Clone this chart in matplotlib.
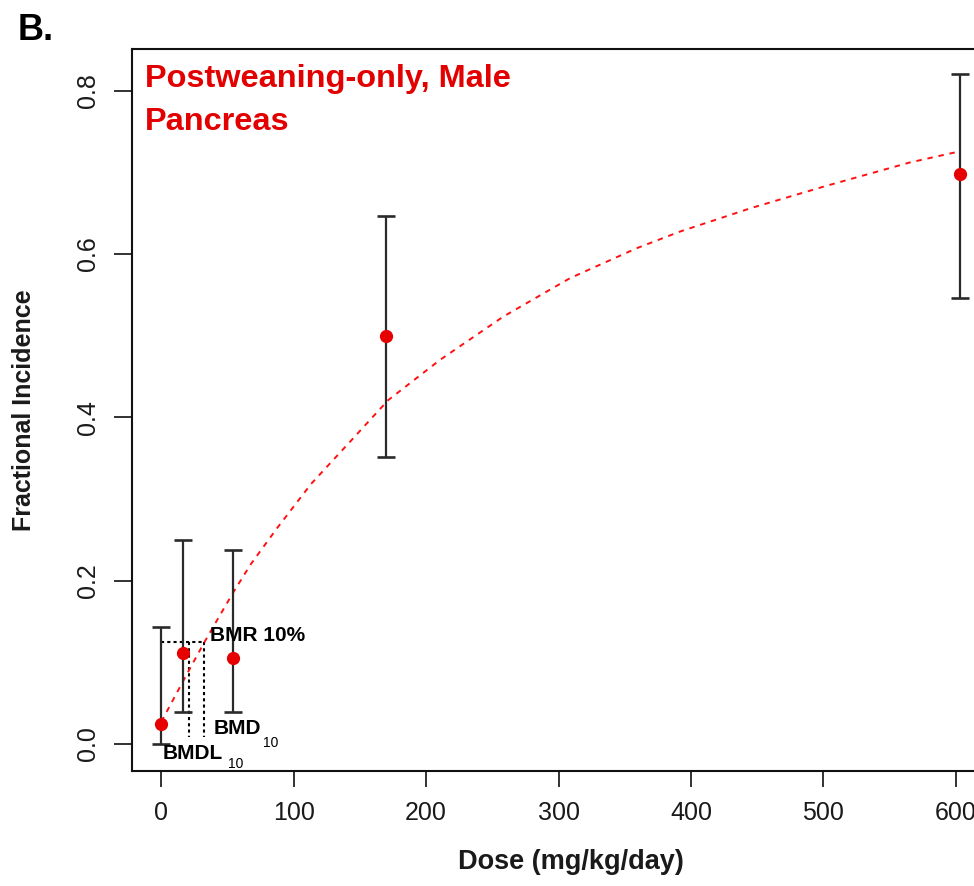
import matplotlib
matplotlib.use("Agg")
import matplotlib.pyplot as plt

# --- datos ---
dose = [0, 16.5, 54, 170, 603]
incidence = [0.0245, 0.111, 0.1055, 0.4996, 0.6977]
ci_lower = [0.0, 0.039, 0.039, 0.3515, 0.5458]
ci_upper = [0.1437, 0.2493, 0.238, 0.647, 0.820]

curve_dose = [0, 1, 18.7, 31.9, 45, 54.7, 67.4, 87.6, 113, 143.4, 171.3, 210.3,
              258.2, 308.5, 358.9, 391.6, 445.5, 501.7, 565.4, 603]
curve_p = [0.027, 0.0307, 0.0841, 0.1232, 0.160, 0.1869, 0.2200, 0.2649, 0.3184,
           0.3718, 0.4211, 0.4702, 0.5233, 0.5703, 0.607, 0.6274, 0.6563,
           0.6832, 0.7121, 0.7257]

bmr = 0.1253
bmd = 31.9
bmdl = 20.5

x_ticks = [0, 100, 200, 300, 400, 500, 600]
y_ticks = [0.0, 0.2, 0.4, 0.6, 0.8]
y_ticklabels = ["0.0", "0.2", "0.4", "0.6", "0.8"]

SANS = ["Liberation Sans", "DejaVu Sans"]

W, H = 974, 886
fig = plt.figure(figsize=(W / 100, H / 100), dpi=100)
ax = fig.add_axes([131.7 / W, 1 - 770.7 / H, (990 - 131.7) / W, (770.7 - 49.3) / H])

ax.set_xlim(-22.5, 626)
ax.set_ylim(-0.0327, 0.8507)

# curva
ax.plot(curve_dose, curve_p, color="#ff1010", lw=1.4, dashes=(2.8, 3.0), zorder=2)

# barras de error + puntos
yerr = [[m - lo for m, lo in zip(incidence, ci_lower)],
        [hi - m for m, hi in zip(incidence, ci_upper)]]
ax.errorbar(dose, incidence, yerr=yerr, fmt="none", ecolor="#2a2a2a",
            elinewidth=1.6, capsize=6.5, capthick=1.9, zorder=3)
ax.plot(dose, incidence, "o", color="#e60000", ms=8.5, zorder=4)

# líneas BMD / BMDL
ax.plot([0, bmd], [bmr, bmr], color="black", lw=1.5, ls=(0, (1.5, 1.5)), zorder=1)
ax.plot([bmdl, bmdl], [bmr, 0.008], color="black", lw=1.5, ls=(0, (1.5, 1.5)), zorder=1)
ax.plot([bmd, bmd], [bmr, 0.008], color="black", lw=1.5, ls=(0, (1.5, 1.5)), zorder=1)

ax.annotate("BMR 10%", xy=(bmd, bmr), xytext=(4.5, 4.6), textcoords="offset points",
            fontsize=15, fontweight="bold", family=SANS, va="center", ha="left")
ax.annotate("BMD", xy=(bmd, 0), xytext=(7, 11.5), textcoords="offset points",
            fontsize=15, fontweight="bold", family=SANS, va="center", ha="left")
ax.annotate("10", xy=(bmd, 0), xytext=(43, 1.0), textcoords="offset points",
            fontsize=10, family=SANS, va="center", ha="left")
ax.annotate("BMDL", xy=(bmdl, 0), xytext=(-18.7, -6.5), textcoords="offset points",
            fontsize=15, fontweight="bold", family=SANS, va="center", ha="left")
ax.annotate("10", xy=(bmdl, 0), xytext=(28, -14.2), textcoords="offset points",
            fontsize=10, family=SANS, va="center", ha="left")

# título rojo dentro del panel
ax.text(0.0155, 0.979, "Postweaning-only, Male\nPancreas", transform=ax.transAxes,
        color="#e20000", fontsize=23.4, fontweight="bold", family=SANS,
        va="top", ha="left", linespacing=1.55)

# ejes
ax.set_xticks(x_ticks)
ax.set_xticklabels([str(t) for t in x_ticks], family=SANS, fontsize=18)
ax.set_yticks(y_ticks)
ax.set_yticklabels(y_ticklabels, family=SANS, fontsize=18, rotation=90, va="center")
ax.tick_params(axis="x", length=11.5, width=1.3, pad=10, color="#222222",
               labelcolor="#1a1a1a")
ax.tick_params(axis="y", length=13, width=1.3, pad=9.5, color="#222222",
               labelcolor="#1a1a1a")
for s in ["left", "bottom", "top", "right"]:
    ax.spines[s].set_linewidth(1.5)
    ax.spines[s].set_color("#111111")

fig.text(571 / W, 1 - 862 / H, "Dose (mg/kg/day)", ha="center", va="center",
         fontsize=19.5, fontweight="bold", family=SANS, color="#1a1a1a")
fig.text(24 / W, 1 - 410 / H, "Fractional Incidence", ha="center", va="center",
         rotation=90, fontsize=18, fontweight="bold", family=SANS, color="#1a1a1a")

fig.text(18 / W, 1 - 30 / H, "B.", ha="left", va="center",
         fontsize=26, fontweight="bold", family=SANS)

fig.savefig("out.png", dpi=100)
